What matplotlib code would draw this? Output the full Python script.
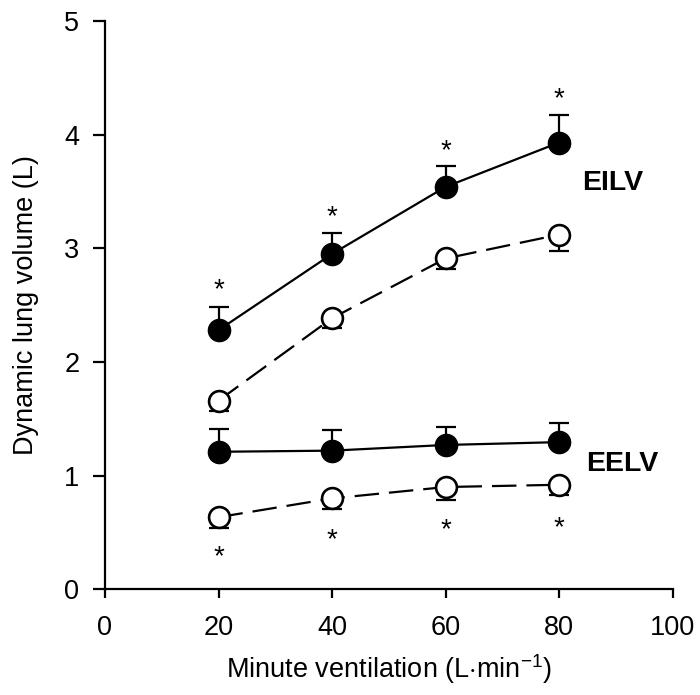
import numpy as np
import matplotlib
matplotlib.use('Agg')
import matplotlib.pyplot as plt
from matplotlib.transforms import offset_copy

plt.rcParams['font.family'] = ['Liberation Sans', 'DejaVu Sans']
plt.rcParams['mathtext.fontset'] = 'custom'
plt.rcParams['mathtext.rm'] = 'Liberation Sans'
plt.rcParams['mathtext.it'] = 'Liberation Sans:italic'

# Minute ventilation (L/min)
ve = [20, 40, 60, 80]

# EILV: filled = one group, open = other group
eilv_filled = [2.28, 2.95, 3.54, 3.93]
eilv_filled_err = [0.20, 0.18, 0.18, 0.24]
eilv_open = [1.66, 2.385, 2.91, 3.12]
eilv_open_err = [0.09, 0.085, 0.09, 0.14]

# EELV
eelv_filled = [1.21, 1.22, 1.27, 1.295]
eelv_filled_err = [0.20, 0.18, 0.16, 0.17]
eelv_open = [0.635, 0.80, 0.90, 0.92]
eelv_open_err = [0.095, 0.095, 0.11, 0.09]

# significance markers (glyph centres)
star_eilv_y = [2.68, 3.32, 3.90, 4.36]
star_eelv_y = [0.33, 0.48, 0.57, 0.585]

fig = plt.figure(figsize=(7, 6.95), dpi=100)
ax = fig.add_axes([0.150, 0.152, 0.811, 0.818])

ms = 16
lw = 1.6

def series(y, err, filled, upper):
    zero = np.zeros(len(err))
    yerr = [zero, err] if upper else [err, zero]
    ax.errorbar(ve, y, yerr=yerr, fmt='none', ecolor='black', elinewidth=lw,
                capsize=7.5, capthick=lw, zorder=2)
    if filled:
        ax.plot(ve, y, '-', color='black', lw=lw, marker='o', ms=ms,
                mfc='black', mec='black', zorder=3)
    else:
        ax.plot(ve, y, color='black', lw=lw, dashes=(11, 4.5), marker='o', ms=ms - 1,
                mfc='white', mec='black', mew=1.9, zorder=3)

series(eilv_filled, eilv_filled_err, True, True)
series(eilv_open, eilv_open_err, False, False)
series(eelv_filled, eelv_filled_err, True, True)
series(eelv_open, eelv_open_err, False, False)

star_fs = 20
star_tr = offset_copy(ax.transData, fig=fig, y=-0.45 * star_fs, units='points')
for x, y in zip(ve, star_eilv_y):
    ax.text(x, y, '*', ha='center', va='baseline', fontsize=star_fs, transform=star_tr)
for x, y in zip(ve, star_eelv_y):
    ax.text(x, y, '*', ha='center', va='baseline', fontsize=star_fs, transform=star_tr)

ax.text(84, 3.57, 'EILV', fontsize=20.5, fontweight='bold', va='center', ha='left')
ax.text(84.7, 1.10, 'EELV', fontsize=20.5, fontweight='bold', va='center', ha='left')

ax.set_xlim(0, 100)
ax.set_ylim(0, 5)
ax.set_xticks([0, 20, 40, 60, 80, 100])
ax.set_yticks([0, 1, 2, 3, 4, 5])
ax.spines['top'].set_visible(False)
ax.spines['right'].set_visible(False)
for s in ['left', 'bottom']:
    ax.spines[s].set_linewidth(1.6)
ax.tick_params(axis='both', direction='out', width=1.6, labelsize=19.5)
ax.tick_params(axis='x', length=6.5, pad=12)
ax.tick_params(axis='y', length=8.5, pad=10)
ax.set_xlabel('Minute ventilation (L$\\cdot$min$^{-1}$)', fontsize=19.5, labelpad=8)
ax.set_ylabel('Dynamic lung volume (L)', fontsize=19.5, labelpad=18)

fig.savefig('out.png', dpi=100)
